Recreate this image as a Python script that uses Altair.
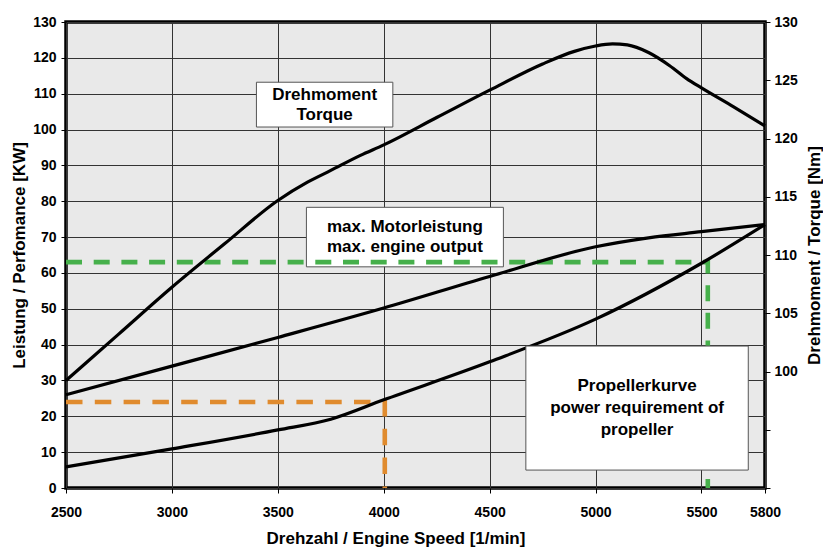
import altair as alt
import pandas as pd

# ---------------- data ----------------
# max. engine output (KW)
rpm_power = [2500, 3000, 3500, 4000, 4500, 5000, 5250, 5500, 5800]
power_max_kw = [26.0, 34.0, 42.0, 50.2, 59.0, 67.3, 69.8, 71.5, 73.5]

# propeller power requirement (KW)
rpm_prop = [2500, 3000, 3500, 3750, 4000, 4500, 5000, 5500, 5800]
power_prop_kw = [5.9, 10.9, 16.2, 19.2, 24.6, 35.2, 47.1, 62.7, 73.5]

# torque (Nm, right axis)
rpm_torque = [2500, 2750, 3000, 3250, 3500, 3640, 3750, 3890, 4000, 4250, 4500,
              4750, 4900, 5000, 5080, 5150, 5250, 5350, 5430, 5500, 5650, 5800]
torque_nm = [99.23, 103.23, 107.23, 110.98, 114.68, 116.25, 117.26, 118.55, 119.45,
             121.8, 124.15, 126.4, 127.48, 127.94, 128.12, 128.03, 127.38, 126.25,
             125.14, 124.34, 122.74, 121.08]

# reference (dashed) lines: max output point and operating point
green_x = [2500, 5530, 5530]
green_y = [63, 63, 0]
orange_x = [2500, 4005, 4005]
orange_y = [24, 24, 0]

# annotation boxes (data units)
box_labels = ["Drehmoment\nTorque",
              "max. Motorleistung\nmax. engine output",
              "Propellerkurve\npower requirement of\npropeller"]
box_x1 = [3399, 3635, 4671]
box_x2 = [4043, 4565, 5721]
box_y1 = [100.7, 61.7, 5.0]
box_y2 = [113.2, 78.3, 39.6]

x_ticks = [2500, 3000, 3500, 4000, 4500, 5000, 5500, 5800]
y_ticks = list(range(0, 131, 10))
r_ticks = [90, 95, 100, 105, 110, 115, 120, 125, 130]

GREEN = "#46b04b"
ORANGE = "#e08b2e"
FONT = "Liberation Sans"

# ---------------- frames ----------------
df_power = pd.DataFrame({"rpm": rpm_power, "kw": power_max_kw})
df_prop = pd.DataFrame({"rpm": rpm_prop, "kw": power_prop_kw})
df_torque = pd.DataFrame({"rpm": rpm_torque, "nm": torque_nm})
df_green = pd.DataFrame({"rpm": green_x, "kw": green_y, "ord": range(3)})
df_orange = pd.DataFrame({"rpm": orange_x, "kw": orange_y, "ord": range(3)})


def box_df(i):
    return pd.DataFrame({
        "x1": [box_x1[i]], "x2": [box_x2[i]],
        "y1": [box_y1[i]], "y2": [box_y2[i]],
        "xc": [(box_x1[i] + box_x2[i]) / 2], "yc": [(box_y1[i] + box_y2[i]) / 2],
        "label": [box_labels[i]],
    })


X_AXIS = dict(values=x_ticks, format="d", title="Drehzahl / Engine Speed [1/min]",
              titleX=329.5, titlePadding=11, labelPadding=12, tickSize=5,
              grid=True, gridColor="#333333", gridWidth=1, domain=False,
              labelFlush=False, labelOverlap=False)
Y_AXIS = dict(values=y_ticks, title="Leistung / Perfomance [KW]",
              titlePadding=4, labelPadding=5, tickSize=5,
              grid=True, gridColor="#333333", gridWidth=1, domain=False,
              labelFlush=False, labelOverlap=False)


def xq(field):
    return alt.X(f"{field}:Q",
                 scale=alt.Scale(domain=[2500, 5800], nice=False, zero=False),
                 axis=alt.Axis(**X_AXIS))


def yq(field):
    return alt.Y(f"{field}:Q",
                 scale=alt.Scale(domain=[0, 130], nice=False, zero=True),
                 axis=alt.Axis(**Y_AXIS))


def rect_layer(i):
    return alt.Chart(box_df(i)).mark_rect(
        fill="white", stroke="#555555", strokeWidth=1
    ).encode(x=xq("x1"), x2="x2", y=yq("y1"), y2="y2")


def text_layer(i, lh, nlines):
    return alt.Chart(box_df(i)).mark_text(
        font=FONT, fontWeight="bold", fontSize=17, lineBreak="\n",
        lineHeight=lh, align="center", baseline="middle", color="black",
        dy=-(nlines - 1) * lh / 2
    ).encode(x=xq("xc"), y=yq("yc"), text="label:N")


def dash_layer(df, color, dash):
    return alt.Chart(df).mark_line(
        color=color, strokeWidth=4.6, strokeDash=dash, strokeCap="butt"
    ).encode(x=xq("rpm"), y=yq("kw"), order="ord:Q")


def curve_layer(df):
    return alt.Chart(df).mark_line(
        color="black", strokeWidth=3.2, interpolate="monotone"
    ).encode(x=xq("rpm"), y=yq("kw"))


left = alt.layer(
    rect_layer(0), text_layer(0, 20, 2),
    rect_layer(1), text_layer(1, 20, 2),
    dash_layer(df_green, GREEN, [16, 11.7]),
    dash_layer(df_orange, ORANGE, [16.5, 12.3]),
    curve_layer(df_power),
    curve_layer(df_prop),
    rect_layer(2), text_layer(2, 22, 3),
)

torque = alt.Chart(df_torque).mark_line(
    color="black", strokeWidth=3.2, interpolate="monotone"
).encode(
    x=xq("rpm"),
    y=alt.Y("nm:Q",
            scale=alt.Scale(domain=[90, 130], nice=False, zero=False),
            axis=alt.Axis(orient="right", values=r_ticks,
                          labelExpr="datum.value >= 100 ? datum.label : ''",
                          title="Drehmoment / Torque [Nm]", titleAngle=270,
                          titleX=49, titleY=233, titleBaseline="middle",
                          titleAlign="center",
                          labelPadding=4, tickSize=5,
                          grid=False, domain=False, labelOverlap=False,
                          labelFlush=False)),
)

chart = alt.layer(left, torque).resolve_scale(y="independent").properties(
    width=699, height=466,
    autosize=alt.AutoSizeParams(type="none"),
    padding={"left": 58, "top": 14, "right": 58, "bottom": 60},
    background="white",
).configure_view(
    stroke="black", strokeWidth=3.5, fill="#e9e9e9"
).configure_axis(
    labelFont=FONT, labelFontWeight="bold", labelFontSize=14, labelColor="black",
    titleFont=FONT, titleFontWeight="bold", titleFontSize=17, titleColor="black",
    tickColor="black", tickWidth=1,
)

chart.save("out.html", embed_options={"renderer": "svg", "actions": False})
